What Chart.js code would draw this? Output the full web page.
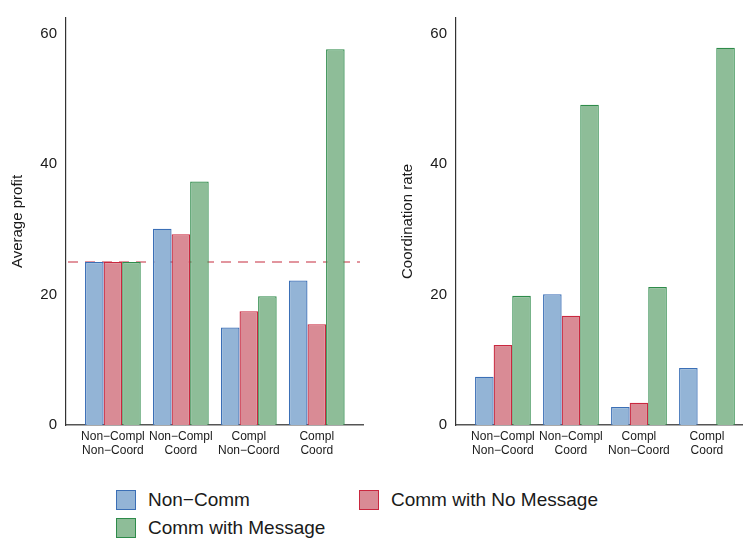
<!DOCTYPE html>
<html>
<head>
<meta charset="utf-8">
<script src="https://cdn.jsdelivr.net/npm/chart.js@4/dist/chart.umd.min.js"></script>
<style>
  html, body { margin: 0; padding: 0; background: #fff; }
  body { width: 743px; height: 543px; position: relative; overflow: hidden; font-family: "Liberation Sans", Arial, sans-serif; }
  #c1 { position: absolute; left: 0; top: 0; }
  #c2 { position: absolute; left: 370px; top: 0; }
  .leg { position: absolute; display: flex; align-items: center; font-size: 19px; color: #1a1a1a; }
  .leg .box { width: 18px; height: 18px; border: 1px solid; margin-right: 12px; }
</style>
</head>
<body>
<canvas id="c1" width="370" height="470"></canvas>
<canvas id="c2" width="373" height="470"></canvas>
<div class="leg" style="left:116px; top:489px;"><div class="box" style="background:#93b4d6;border-color:#3b6fb6"></div><span>Non−Comm</span></div>
<div class="leg" style="left:359px; top:489px;"><div class="box" style="background:#d98b95;border-color:#c9283f"></div><span>Comm with No Message</span></div>
<div class="leg" style="left:116px; top:517px;"><div class="box" style="background:#8ebd98;border-color:#2e8b4a"></div><span>Comm with Message</span></div>
<script>
// ---- data ----
const categories = [["Non−Compl", "Non−Coord"], ["Non−Compl", "Coord"], ["Compl", "Non−Coord"], ["Compl", "Coord"]];
const seriesNames = ["Non−Comm", "Comm with No Message", "Comm with Message"];
const profitNonComm = [25, 30.1, 14.95, 22.15];
const profitCommNoMsg = [25, 29.25, 17.45, 15.45];
const profitCommMsg = [25, 37.35, 19.75, 57.6];
const coordNonComm = [7.4, 20.05, 2.75, 8.75];
const coordCommNoMsg = [12.25, 16.75, 3.4, null];
const coordCommMsg = [19.8, 49.1, 21.15, 57.85];
const profitReference = 25;
const yTicks = [0, 20, 40, 60];

// ---- styles ----
const fills = ["#93b4d6", "#d98b95", "#8ebd98"];
const borders = ["#3b6fb6", "#c9283f", "#2e8b4a"];
const FONT = "'Liberation Sans', Arial, sans-serif";

function toPoints(arr) { return arr.map((v, i) => ({ x: i + 1, y: v })); }

const refLinePlugin = {
  id: 'refLine',
  beforeDatasetsDraw(chart, args, opts) {
    if (opts.value == null) return;
    const { ctx, chartArea } = chart;
    const y = chart.scales.y.getPixelForValue(opts.value);
    ctx.save();
    ctx.strokeStyle = '#d9737f';
    ctx.lineWidth = 1.4;
    ctx.setLineDash([10, 7]);
    ctx.beginPath();
    ctx.moveTo(chartArea.left + 2, y);
    ctx.lineTo(chartArea.right - 3, y);
    ctx.stroke();
    ctx.restore();
  }
};

function makeChart(id, series, yTitle, xMax, yAxisWidth, rightPad, titlePad, refValue) {
  return new Chart(document.getElementById(id), {
    type: 'bar',
    data: {
      datasets: series.map((s, k) => ({
        label: seriesNames[k],
        data: toPoints(s),
        backgroundColor: fills[k],
        borderColor: borders[k],
        borderWidth: 1.3,
        borderSkipped: 'bottom',
        categoryPercentage: 0.82,
        barPercentage: 1.0
      }))
    },
    options: {
      responsive: false,
      animation: false,
      devicePixelRatio: 1,
      layout: { padding: { top: 9, right: rightPad, left: 0, bottom: 0 } },
      plugins: { legend: { display: false }, tooltip: { enabled: false }, refLine: { value: refValue } },
      scales: {
        x: {
          type: 'linear',
          offset: false,
          min: 0.31,
          max: xMax,
          grid: { display: false, drawTicks: false, offset: false },
          border: { display: true, color: '#555', width: 1.5 },
          afterBuildTicks(scale) {
            scale.ticks = categories.map((c, i) => ({ value: i + 1 }));
          },
          afterFit(scale) { scale.height = 45; },
          ticks: {
            autoSkip: false,
            maxRotation: 0,
            padding: 4,
            color: '#1a1a1a',
            font: { family: FONT, size: 12 },
            callback: (v) => categories[v - 1]
          }
        },
        y: {
          min: 0,
          max: 62.4,
          grid: { display: false, drawTicks: false },
          border: { display: true, color: '#333', width: 1.2 },
          afterBuildTicks(scale) {
            scale.ticks = yTicks.map(v => ({ value: v }));
          },
          afterFit(scale) { scale.width = yAxisWidth; },
          ticks: { padding: 9, color: '#1a1a1a', font: { family: FONT, size: 15 } },
          title: { display: true, text: yTitle, color: '#1a1a1a', font: { family: FONT, size: 15 }, padding: titlePad }
        }
      }
    },
    plugins: [refLinePlugin]
  });
}

makeChart('c1', [profitNonComm, profitCommNoMsg, profitCommMsg], 'Average profit', 4.68, 66, 7, { top: 9, bottom: 0 }, profitReference);
makeChart('c2', [coordNonComm, coordCommNoMsg, coordCommMsg], 'Coordination rate', 4.53, 86, 0, { top: 29, bottom: 0 }, null);
</script>
</body>
</html>
